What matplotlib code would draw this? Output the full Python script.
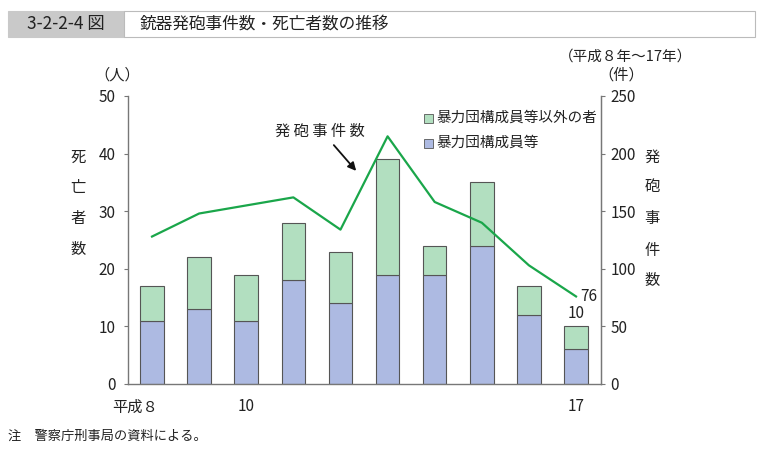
import matplotlib
matplotlib.use("Agg")
import matplotlib.pyplot as plt
from matplotlib.patches import Rectangle
import numpy as np

plt.rcParams['font.family'] = ['Noto Sans CJK JP', 'DejaVu Sans']

years = ['平成８', '', '10', '', '', '', '', '', '', '17']
gang_members = [11, 13, 11, 18, 14, 19, 19, 24, 12, 6]
others = [6, 9, 8, 10, 9, 20, 5, 11, 5, 4]
incidents = [128, 148, 155, 162, 134, 215, 158, 140, 103, 76]

green_fill = '#b2dfc0'
blue_fill = '#adbae2'
line_col = '#1aa64a'
edge = '#555555'
spine_col = '#777777'

fig = plt.figure(figsize=(7.64, 4.53), dpi=100)
W, H = 764, 453

def fx(px):
    return px / W

def fy(py):
    return 1 - py / H

# title bar
fig.patches.append(Rectangle((fx(8), fy(37)), fx(116), 26 / H, transform=fig.transFigure,
                             facecolor='#c9c9c9', edgecolor='#c9c9c9', lw=0.8))
fig.patches.append(Rectangle((fx(124), fy(37)), fx(631), 26 / H, transform=fig.transFigure,
                             facecolor='white', edgecolor='#bbbbbb', lw=0.8))
fig.text(fx(66), fy(24), '3-2-2-4 図', ha='center', va='center', fontsize=12.5, color='#222222')
fig.text(fx(140), fy(24), '銃器発砲事件数・死亡者数の推移', ha='left', va='center', fontsize=12, color='#222222')

ax = fig.add_axes([fx(128), fy(384), fx(601 - 128), (384 - 96) / H])
x = np.arange(len(gang_members))
ax.bar(x, gang_members, width=0.5, color=blue_fill, edgecolor=edge, lw=0.8, zorder=2)
ax.bar(x, others, width=0.5, bottom=gang_members, color=green_fill, edgecolor=edge, lw=0.8, zorder=2)
ax.set_xlim(-0.51, 9.53)
ax.set_ylim(0, 50)
ax.set_yticks([0, 10, 20, 30, 40, 50])
ax.tick_params(axis='y', direction='out', length=3, color=spine_col, labelsize=11, pad=6, labelcolor='#222222')
ax.set_xticks([])
ax.spines['top'].set_visible(False)
for s in ['left', 'bottom', 'right']:
    ax.spines[s].set_color(spine_col)
    ax.spines[s].set_linewidth(1.0)

ax2 = ax.twinx()
ax2.plot(x, incidents, color=line_col, lw=1.6, zorder=3)
ax2.set_ylim(0, 250)
ax2.set_yticks([0, 50, 100, 150, 200, 250])
ax2.tick_params(axis='y', direction='out', length=3, color=spine_col, labelsize=11, pad=4, labelcolor='#222222')
ax2.spines['top'].set_visible(False)
ax2.spines['left'].set_visible(False)
ax2.spines['bottom'].set_visible(False)
ax2.spines['right'].set_color(spine_col)

# x labels
for i, lab in enumerate(years):
    if lab:
        if i == 0:
            ax.text(i + 0.13, -2.5, lab, ha='right', va='top', fontsize=11, color='#222222')
        else:
            ax.text(i, -2.5, lab, ha='center', va='top', fontsize=11, color='#222222')

# value labels
ax2.text(9.1, incidents[-1], str(incidents[-1]), ha='left', va='center', fontsize=11, color='#222222')
ax.text(9.0, gang_members[-1] + others[-1] + 0.8, str(gang_members[-1] + others[-1]),
        ha='center', va='bottom', fontsize=11, color='#222222')

# axis titles
for ch, py in zip('死亡者数', [157, 187, 218, 249]):
    fig.text(fx(78), fy(py), ch, ha='center', va='center', fontsize=11, color='#222222')
for ch, py in zip('発砲事件数', [157, 187, 218, 250, 281]):
    fig.text(fx(652), fy(py), ch, ha='center', va='center', fontsize=11, color='#222222')
fig.text(fx(117), fy(75), '（人）', ha='center', va='center', fontsize=11, color='#222222')
fig.text(fx(621), fy(75), '（件）', ha='center', va='center', fontsize=11, color='#222222')
fig.text(fx(692), fy(57), '（平成８年～17年）', ha='right', va='center', fontsize=10.5, color='#222222')

# annotation
fig.text(fx(320), fy(131), '発 砲 事 件 数', ha='center', va='center', fontsize=11, color='#222222')
ax.annotate('', xy=(fx(358), fy(173)), xytext=(fx(332), fy(143)),
            xycoords='figure fraction', textcoords='figure fraction',
            arrowprops=dict(arrowstyle='-|>', color='#111111', lw=1.3, mutation_scale=12))

# legend
for lab, col, py in [('暴力団構成員等以外の者', green_fill, 118), ('暴力団構成員等', blue_fill, 143)]:
    fig.patches.append(Rectangle((fx(424), fy(py + 5)), 9 / W, 9 / H, transform=fig.transFigure,
                                 facecolor=col, edgecolor=edge, lw=0.6))
    fig.text(fx(436), fy(py), lab, ha='left', va='center', fontsize=10.5, color='#222222')

fig.text(fx(8), fy(436), '注　警察庁刑事局の資料による。', ha='left', va='center', fontsize=9.5, color='#222222')

fig.savefig('out.png', dpi=100)
